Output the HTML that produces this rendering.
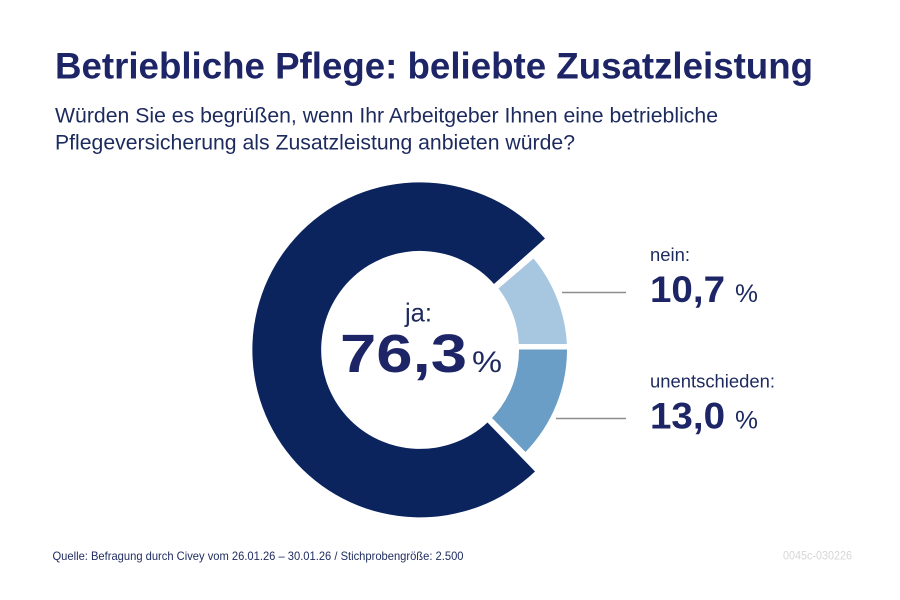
<!DOCTYPE html>
<html>
<head>
<meta charset="utf-8">
<style>
html,body{margin:0;padding:0;background:#fff;}
svg{display:block;}
text{font-family:"Liberation Sans",sans-serif;}
</style>
</head>
<body>
<svg width="900" height="600" viewBox="0 0 900 600" xmlns="http://www.w3.org/2000/svg">
<rect width="900" height="600" fill="#ffffff"/>
<text x="55" y="78.5" font-size="37" font-weight="bold" fill="#1d2567" textLength="758" lengthAdjust="spacingAndGlyphs">Betriebliche Pflege: beliebte Zusatzleistung</text>
<text x="55" y="122.5" font-size="21.5" fill="#1d2a5e" textLength="663" lengthAdjust="spacingAndGlyphs">Würden Sie es begrüßen, wenn Ihr Arbeitgeber Ihnen eine betriebliche</text>
<text x="55" y="149.5" font-size="21.5" fill="#1d2a5e" textLength="520" lengthAdjust="spacingAndGlyphs">Pflegeversicherung als Zusatzleistung anbieten würde?</text>

<path d="M 545 238.5 A 167.5 167.5 0 1 0 535 471.5 L 487.5 422.5 A 99 99 0 1 1 494 284 Z" fill="#0c245e"/>
<path d="M 518.8 344 L 566.9 344 A 147 147 0 0 0 533.5 258.5 L 498.5 288.5 A 99 99 0 0 1 518.8 344 Z" fill="#a7c6df"/>
<path d="M 519 349.5 L 567 349.5 A 147 147 0 0 1 525.5 452 L 492 418 A 99 99 0 0 0 519 349.5 Z" fill="#6a9ec6"/>

<text x="405" y="321.5" font-size="26" fill="#1d2a5e" textLength="27" lengthAdjust="spacingAndGlyphs">ja:</text>
<text x="340" y="372" font-size="54" font-weight="bold" fill="#1d2567" textLength="127" lengthAdjust="spacingAndGlyphs">76,3</text>
<text x="472" y="372" font-size="30" fill="#1d2a5e" textLength="30" lengthAdjust="spacingAndGlyphs">%</text>

<line x1="562" y1="292.5" x2="626" y2="292.5" stroke="#8e8e8e" stroke-width="1.5"/>
<line x1="556" y1="418.5" x2="626" y2="418.5" stroke="#8e8e8e" stroke-width="1.5"/>

<text x="650" y="261" font-size="18" fill="#1d2a5e" textLength="40" lengthAdjust="spacingAndGlyphs">nein:</text>
<text x="650" y="302" font-size="37" font-weight="bold" fill="#1d2567" textLength="75" lengthAdjust="spacingAndGlyphs">10,7</text>
<text x="735" y="302" font-size="25" fill="#1d2a5e" textLength="23" lengthAdjust="spacingAndGlyphs">%</text>

<text x="650" y="387.5" font-size="18" fill="#1d2a5e" textLength="125" lengthAdjust="spacingAndGlyphs">unentschieden:</text>
<text x="650" y="428.5" font-size="37" font-weight="bold" fill="#1d2567" textLength="75" lengthAdjust="spacingAndGlyphs">13,0</text>
<text x="735" y="428.5" font-size="25" fill="#1d2a5e" textLength="23" lengthAdjust="spacingAndGlyphs">%</text>

<text x="52.5" y="560" font-size="12" fill="#1d2a5e" textLength="411" lengthAdjust="spacingAndGlyphs">Quelle: Befragung durch Civey vom 26.01.26 – 30.01.26 / Stichprobengröße: 2.500</text>
<text x="783" y="559.5" font-size="12" fill="#d6d6d6" textLength="69" lengthAdjust="spacingAndGlyphs">0045c-030226</text>
</svg>
</body>
</html>
